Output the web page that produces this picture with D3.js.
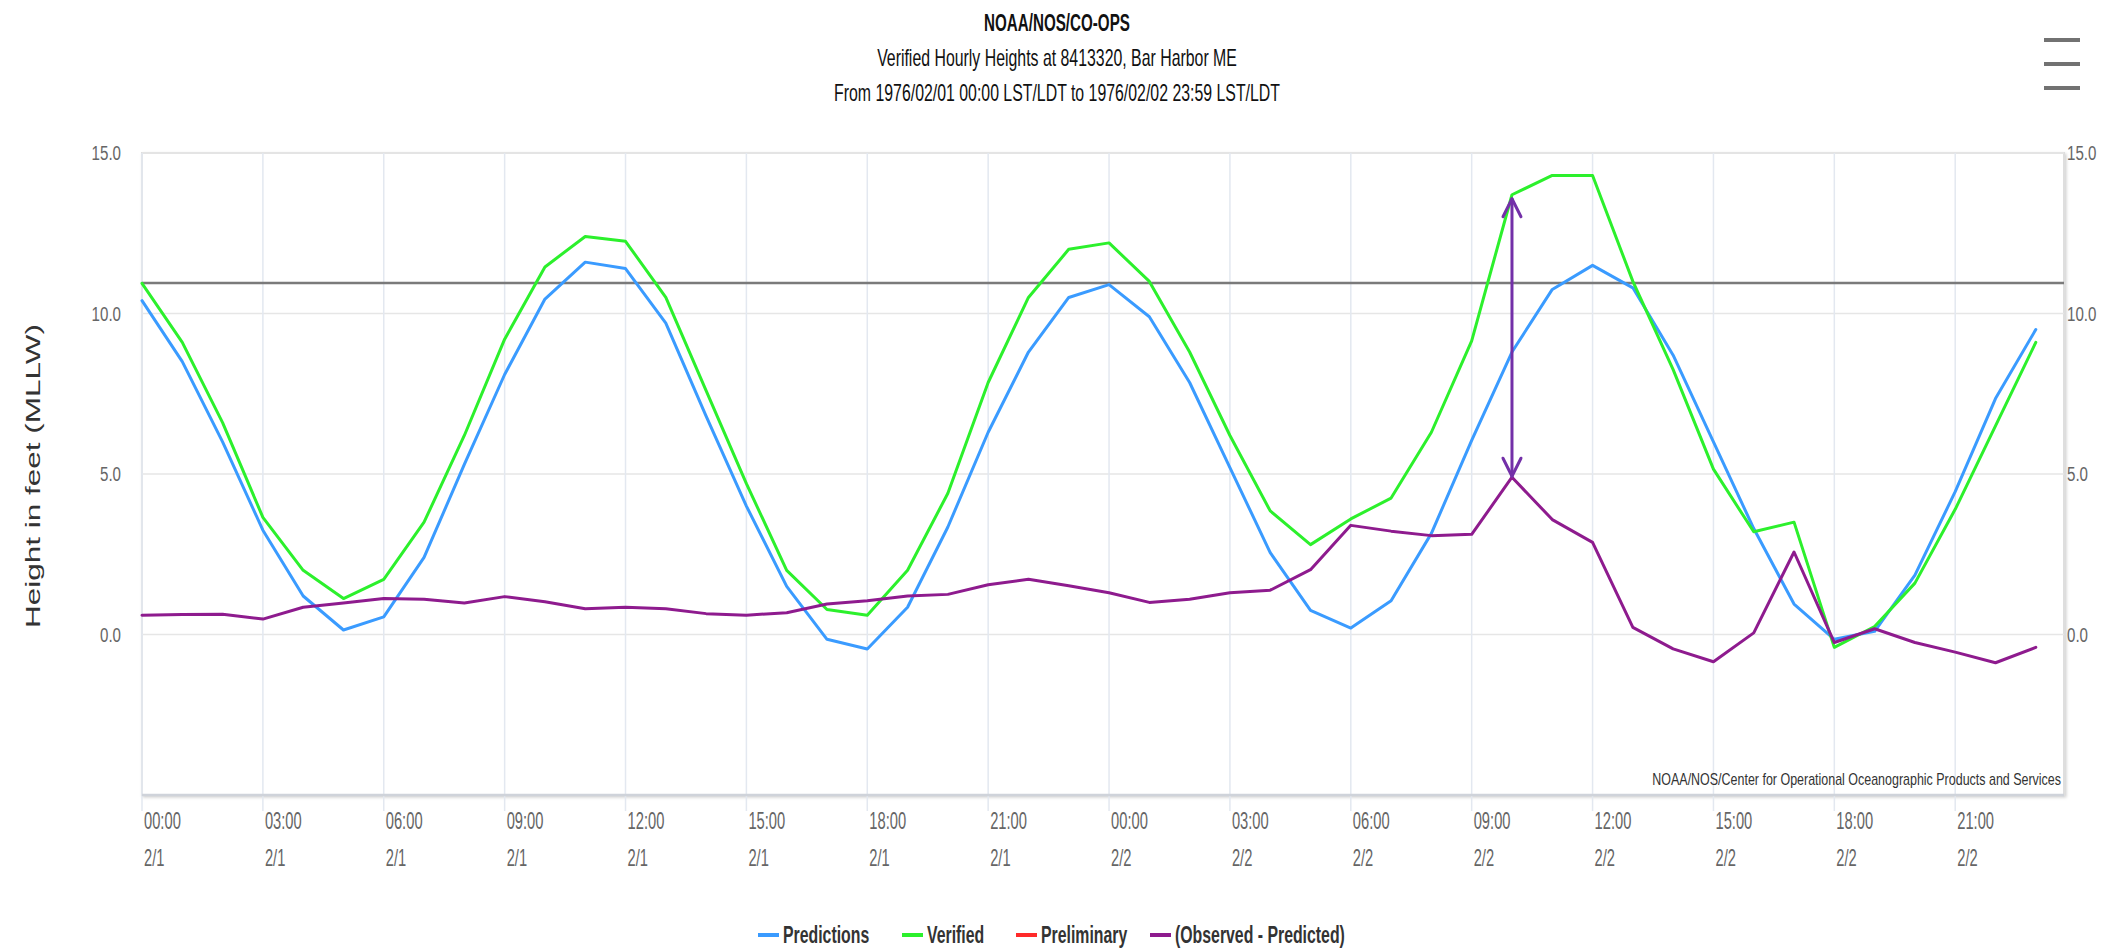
<!DOCTYPE html>
<html>
<head>
<meta charset="utf-8">
<script src="https://cdn.jsdelivr.net/npm/d3@7"></script>
<style>
  html, body { margin: 0; padding: 0; background: #fff; }
  svg { display: block; font-family: "Liberation Sans", Arial, sans-serif; }
</style>
</head>
<body>
<svg id="chart" width="2105" height="952"></svg>
<script>
// Hourly tide heights, Bar Harbor ME, 1976-02-01 00:00 .. 1976-02-02 23:00 (feet, MLLW)
const hours = [0, 1, 2, 3, 4, 5, 6, 7, 8, 9, 10, 11, 12, 13, 14, 15, 16, 17, 18, 19, 20, 21, 22, 23,
               24, 25, 26, 27, 28, 29, 30, 31, 32, 33, 34, 35, 36, 37, 38, 39, 40, 41, 42, 43, 44, 45, 46, 47];

const predictions = [10.4, 8.5, 6.0, 3.25, 1.2, 0.14, 0.55, 2.4, 5.3, 8.1, 10.45, 11.6,
                     11.4, 9.7, 6.8, 4.0, 1.5, -0.15, -0.45, 0.85, 3.35, 6.3, 8.8, 10.5,
                     10.9, 9.9, 7.85, 5.2, 2.55, 0.75, 0.2, 1.05, 3.15, 6.05, 8.8, 10.75,
                     11.5, 10.8, 8.7, 6.0, 3.3, 0.95, -0.15, 0.1, 1.85, 4.45, 7.35, 9.5];

const verified = [10.94, 9.1, 6.6, 3.65, 2.0, 1.12, 1.72, 3.5, 6.2, 9.2, 11.45, 12.4,
                  12.25, 10.5, 7.6, 4.7, 2.0, 0.78, 0.6, 2.0, 4.4, 7.85, 10.5, 12.0,
                  12.2, 11.0, 8.8, 6.2, 3.85, 2.8, 3.6, 4.25, 6.3, 9.15, 13.7, 14.3,
                  14.3, 11.0, 8.25, 5.15, 3.2, 3.5, -0.4, 0.25, 1.6, 3.9, 6.5, 9.1];

const preliminary = [];

const observedMinusPredicted = [0.6, 0.62, 0.63, 0.48, 0.85, 0.98, 1.12, 1.1, 0.98, 1.18, 1.02, 0.8,
                                0.85, 0.8, 0.65, 0.6, 0.68, 0.95, 1.05, 1.2, 1.25, 1.55, 1.72, 1.52,
                                1.3, 1.0, 1.1, 1.3, 1.38, 2.02, 3.4, 3.22, 3.08, 3.12, 4.9, 3.58,
                                2.87, 0.22, -0.45, -0.85, 0.05, 2.57, -0.25, 0.18, -0.25, -0.55, -0.88, -0.4];

// reference level drawn across the plot (feet)
const referenceLevel = 10.95;

// highlighted difference on 2/2
const arrowHour = 34;

const tickHours = [0, 3, 6, 9, 12, 15, 18, 21, 24, 27, 30, 33, 36, 39, 42, 45];
const tickTimes = ["00:00", "03:00", "06:00", "09:00", "12:00", "15:00", "18:00", "21:00",
                   "00:00", "03:00", "06:00", "09:00", "12:00", "15:00", "18:00", "21:00"];
const tickDates = ["2/1", "2/1", "2/1", "2/1", "2/1", "2/1", "2/1", "2/1",
                   "2/2", "2/2", "2/2", "2/2", "2/2", "2/2", "2/2", "2/2"];
const yTicks = [0, 5, 10, 15];

const titleLines = ["NOAA/NOS/CO-OPS",
                    "Verified Hourly Heights at 8413320, Bar Harbor ME",
                    "From 1976/02/01 00:00 LST/LDT to 1976/02/02 23:59 LST/LDT"];
const yTitle = "Height in feet (MLLW)";
const credits = "NOAA/NOS/Center for Operational Oceanographic Products and Services";

const seriesNames = ["Predictions", "Verified", "Preliminary", "(Observed - Predicted)"];
const seriesColors = ["#3a9bff", "#2cf02c", "#ff2a2a", "#8e1b8e"];
const seriesData = [predictions, verified, preliminary, observedMinusPredicted];

// ---- layout ----
const plot = { left: 142, right: 2064, top: 153, bottom: 795 };
const x = d3.scaleLinear().domain([0, 47.7]).range([plot.left, plot.right]);
const y = d3.scaleLinear().domain([-5, 15]).range([plot.bottom, plot.top]);

const svg = d3.select("#chart");
const defs = svg.append("defs");
const shadow = defs.append("filter").attr("id", "frameShadow")
  .attr("x", "-5%").attr("y", "-5%").attr("width", "110%").attr("height", "110%");
shadow.append("feDropShadow").attr("dx", 1.5).attr("dy", 1.5).attr("stdDeviation", 1.5)
  .attr("flood-color", "#000").attr("flood-opacity", 0.18);

// narrow text: font drawn at size and squeezed horizontally
function narrowText(parent, tx, ty, str, o) {
  const t = parent.append("text")
    .attr("transform", `translate(${tx},${ty}) scale(${o.sx || 0.68},1)`)
    .attr("font-size", o.size)
    .attr("font-weight", o.weight || "normal")
    .attr("fill", o.fill || "#333")
    .attr("text-anchor", o.anchor || "start")
    .text(str);
  return t;
}

// title
const titleG = svg.append("g");
titleLines.forEach((s, i) => {
  narrowText(titleG, 1057, 31 + i * 35, s, {
    size: 23, sx: i === 0 ? 0.66 : 0.69, anchor: "middle", fill: "#111",
    weight: i === 0 ? "bold" : "normal"
  });
});

// menu button
const menu = svg.append("g").attr("stroke", "#5a5a5a").attr("stroke-width", 4)
  .attr("stroke-linecap", "butt").attr("opacity", 0.85);
[40, 64, 88].forEach(yy => menu.append("line")
  .attr("x1", 2044).attr("x2", 2080).attr("y1", yy).attr("y2", yy));

// plot frame with soft shadow
svg.append("rect")
  .attr("x", plot.left).attr("y", plot.top)
  .attr("width", plot.right - plot.left).attr("height", plot.bottom - plot.top)
  .attr("fill", "#fff").attr("stroke", "#dedede").attr("stroke-width", 2)
  .attr("filter", "url(#frameShadow)");

// horizontal grid
const grid = svg.append("g");
yTicks.forEach(v => grid.append("line")
  .attr("x1", plot.left).attr("x2", plot.right)
  .attr("y1", y(v)).attr("y2", y(v))
  .attr("stroke", "#e6e6e6").attr("stroke-width", 1.5));

// vertical grid + tick marks below the axis
tickHours.forEach(h => grid.append("line")
  .attr("x1", x(h)).attr("x2", x(h))
  .attr("y1", plot.top).attr("y2", plot.bottom + 16)
  .attr("stroke", "#e3e8f0").attr("stroke-width", 1.5));

// bottom axis line
svg.append("line")
  .attr("x1", plot.left).attr("x2", plot.right)
  .attr("y1", plot.bottom).attr("y2", plot.bottom)
  .attr("stroke", "#cfd3da").attr("stroke-width", 2.5);

// x labels
const xl = svg.append("g");
tickHours.forEach((h, i) => {
  narrowText(xl, x(h) + 2, 829, tickTimes[i], { size: 23, sx: 0.64, fill: "#666" });
  narrowText(xl, x(h) + 2, 866, tickDates[i], { size: 23, sx: 0.64, fill: "#666" });
});

// y labels, left and right
const yl = svg.append("g");
yTicks.forEach(v => {
  narrowText(yl, 121, y(v) + 7, v.toFixed(1), { size: 21, sx: 0.72, fill: "#666", anchor: "end" });
  narrowText(yl, 2067, y(v) + 7, v.toFixed(1), { size: 21, sx: 0.72, fill: "#666" });
});

// y axis title (stretched along its length)
svg.append("text")
  .attr("transform", `translate(40,476) rotate(-90) scale(1.5,1)`)
  .attr("text-anchor", "middle")
  .attr("font-size", 21)
  .attr("fill", "#333")
  .text(yTitle);

// reference level line
svg.append("line")
  .attr("x1", plot.left).attr("x2", plot.right)
  .attr("y1", y(referenceLevel)).attr("y2", y(referenceLevel))
  .attr("stroke", "#7a7a7a").attr("stroke-width", 2.5);

// series
const line = d3.line().x((d, i) => x(hours[i])).y(d => y(d));
const series = svg.append("g").attr("fill", "none")
  .attr("stroke-linejoin", "round").attr("stroke-linecap", "round");
seriesData.forEach((data, k) => {
  if (!data.length) return;
  series.append("path")
    .attr("d", line(data))
    .attr("stroke", seriesColors[k])
    .attr("stroke-width", 3);
});

// double-headed arrow between verified and observed-predicted at arrowHour
const ax = x(arrowHour);
const yTop = y(verified[arrowHour]) + 4;
const yBot = y(observedMinusPredicted[arrowHour]) - 1;
const arrow = svg.append("g").attr("stroke", "#7330a8").attr("stroke-width", 3)
  .attr("fill", "none").attr("stroke-linecap", "round").attr("stroke-linejoin", "round");
arrow.append("line").attr("x1", ax).attr("x2", ax).attr("y1", yTop).attr("y2", yBot);
arrow.append("path").attr("d", `M${ax - 9},${yTop + 18} L${ax},${yTop} L${ax + 9},${yTop + 18}`);
arrow.append("path").attr("d", `M${ax - 9},${yBot - 18} L${ax},${yBot} L${ax + 9},${yBot - 18}`);

// credits
narrowText(svg, 2061, 785, credits, { size: 16, sx: 0.78, anchor: "end", fill: "#333" });

// legend
const legend = svg.append("g");
const legendX = [758, 902, 1016, 1150];
seriesNames.forEach((name, k) => {
  legend.append("line")
    .attr("x1", legendX[k]).attr("x2", legendX[k] + 21)
    .attr("y1", 935).attr("y2", 935)
    .attr("stroke", seriesColors[k]).attr("stroke-width", 4);
  narrowText(legend, legendX[k] + 25, 943, name, { size: 24, sx: 0.66, weight: "bold", fill: "#333" });
});
</script>
</body>
</html>
